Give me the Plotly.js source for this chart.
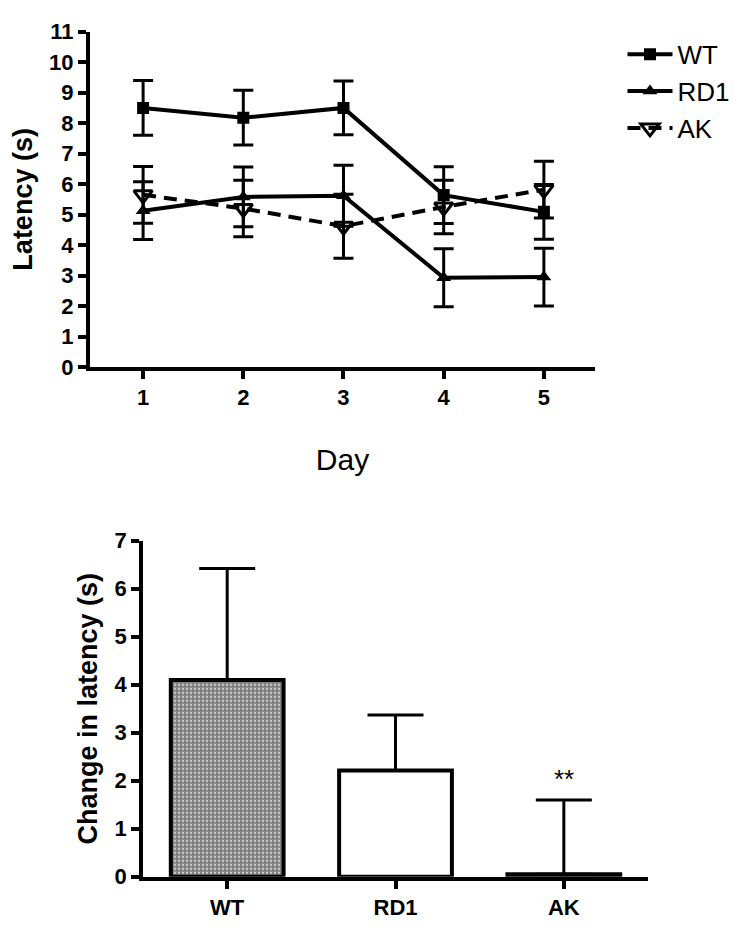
<!DOCTYPE html>
<html><head><meta charset="utf-8">
<script src="https://cdn.plot.ly/plotly-3.0.1.min.js"></script>
<style>html,body{margin:0;padding:0;background:#fff}#g{width:750px;height:936px}</style>
</head><body><div id="g"></div>
<script>
// Top chart: latency by day
const days = [1, 2, 3, 4, 5];
const wtLatency  = [8.5, 8.18, 8.5, 5.64, 5.09];
const wtErr      = [0.9, 0.9, 0.88, 0.93, 0.9];
const rd1Latency = [5.13, 5.58, 5.62, 2.93, 2.95];
const rd1Err     = [0.95, 0.98, 1.0, 0.95, 0.95];
const akLatency  = [5.65, 5.2, 4.62, 5.25, 5.82];
const akErr      = [0.93, 0.93, 1.05, 0.88, 0.93];
const seriesNames = ['WT', 'RD1', 'AK'];

// Bottom chart: change in latency
const groups = ['WT', 'RD1', 'AK'];
const changeLatency = [4.1, 2.21, 0.05];
const changeErr = [2.32, 1.16, 1.55];
const sigLabel = '**';

const F = 'Liberation Sans, Arial, sans-serif';
const errStyle = (arr) => ({type:'data', array:arr, visible:true, color:'#000', thickness:3, width:10});

const traces = [
  {x:days, y:wtLatency, name:seriesNames[0], type:'scatter', mode:'lines+markers', xaxis:'x', yaxis:'y',
   legendgroup:'a', line:{color:'#000', width:4}, marker:{symbol:'square', size:12, color:'#000'},
   error_y:errStyle(wtErr)},
  {x:days, y:rd1Latency, name:seriesNames[1], type:'scatter', mode:'lines+markers', xaxis:'x', yaxis:'y',
   legendgroup:'b', line:{color:'#000', width:4}, marker:{symbol:'triangle-up', size:13, color:'#000'},
   error_y:errStyle(rd1Err)},
  {x:days, y:akLatency, name:seriesNames[2], type:'scatter', mode:'lines+markers', xaxis:'x', yaxis:'y',
   legendgroup:'c', line:{color:'#000', width:4, dash:'13px,8px'},
   marker:{symbol:'triangle-down-open', size:16, color:'#000', line:{width:3, color:'#000'}},
   error_y:errStyle(akErr)},
  {x:groups, y:changeLatency, type:'bar', xaxis:'x2', yaxis:'y2', showlegend:false, width:0.67,
   marker:{color:'#fff', line:{color:'#000', width:4},
     pattern:{shape:['.', '', ''], fgcolor:'#000', bgcolor:'#fff', size:4, solidity:0.8, fillmode:'overlay'}},
   error_y:{type:'data', symmetric:false, array:changeErr, arrayminus:[0,0,0], color:'#000', thickness:3, width:28}}
];

const axLine = {showline:true, linewidth:4, linecolor:'#000', showgrid:false, zeroline:false,
  ticks:'outside', ticklen:8, tickwidth:4, tickcolor:'#000'};

const layout = {
  width:750, height:936, margin:{l:0, r:0, t:0, b:0}, paper_bgcolor:'#fff', plot_bgcolor:'rgba(0,0,0,0)',
  showlegend:true,
  legend:{x:0.83, y:0.967, xanchor:'left', yanchor:'top', font:{family:F, size:26, color:'#000'},
    tracegroupgap:0, itemwidth:45, bgcolor:'rgba(0,0,0,0)'},
  xaxis:Object.assign({}, axLine, {domain:[0.12, 0.7933], range:[0.47, 5.51], tickvals:days,
    tickfont:{family:F, size:22, weight:'bold', color:'#000'}, anchor:'y',
    title:{text:'Day', font:{family:F, size:30, color:'#000'}, standoff:41}}),
  yaxis:Object.assign({}, axLine, {domain:[0.6079, 0.9661], range:[0, 11], dtick:1, anchor:'x',
    tickfont:{family:F, size:22, weight:'bold', color:'#000'},
    title:{text:'Latency (s)', font:{family:F, size:27, weight:'bold', color:'#000'}, standoff:10}}),
  xaxis2:Object.assign({}, axLine, {domain:[0.1907, 0.864], range:[-0.5, 2.5], type:'category', anchor:'y2',
    tickfont:{family:F, size:22, weight:'bold', color:'#000'}}),
  yaxis2:Object.assign({}, axLine, {domain:[0.0634, 0.4223], range:[0, 7], dtick:1, anchor:'x2',
    tickfont:{family:F, size:22, weight:'bold', color:'#000'},
    title:{text:'Change in latency (s)', font:{family:F, size:27, weight:'bold', color:'#000'}, standoff:10}}),
  annotations:[{x:groups[2], y:changeLatency[2] + changeErr[2], xref:'x2', yref:'y2', text:sigLabel,
    showarrow:false, yanchor:'bottom', yshift:4, font:{family:F, size:26, color:'#000'}}]
};

Plotly.newPlot('g', traces, layout, {staticPlot:true});
</script></body></html>
